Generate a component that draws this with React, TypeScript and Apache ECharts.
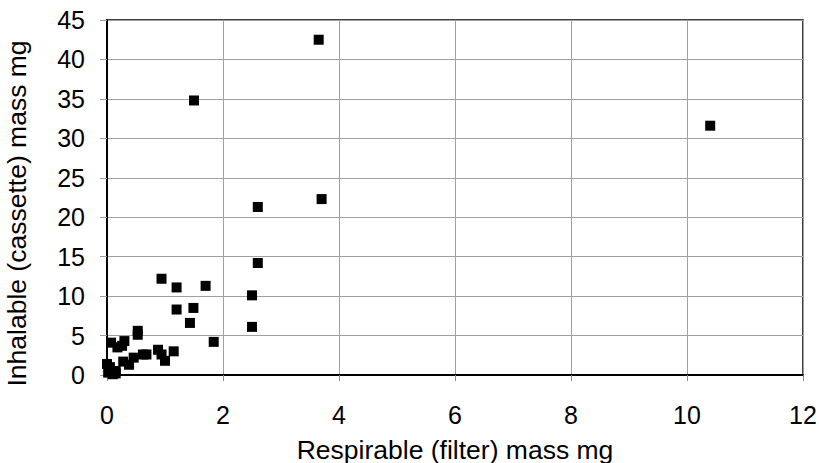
import React, { useEffect, useRef } from "react";
import * as echarts from "echarts";

const respirable: number[] = [
  3.65, 1.5, 10.4, 3.7, 2.6, 2.6, 2.5, 2.5,
  0.94, 1.2, 1.7, 1.2, 1.49, 1.43,
  0.53, 0.53, 1.84, 0.07, 0.3, 0.18, 0.26,
  1.15, 0.88, 0.94, 1.0, 0.62, 0.68, 0.46, 0.28, 0.38,
  0.0, 0.05, 0.05, 0.15, 0.1, 0.15, 0.02,
];
const inhalable: number[] = [
  42.5, 34.8, 31.6, 22.3, 21.3, 14.2, 10.1, 6.1,
  12.2, 11.1, 11.3, 8.3, 8.5, 6.6,
  5.6, 5.1, 4.2, 4.1, 4.3, 3.5, 3.7,
  3.0, 3.2, 2.6, 1.8, 2.6, 2.6, 2.2, 1.7, 1.3,
  1.4, 1.0, 0.4, 0.5, 0.1, 0.2, 0.3,
];
const xTitle = "Respirable (filter) mass mg";
const yTitle = "Inhalable (cassette) mass mg";

const FONT = "'Liberation Sans', Arial, sans-serif";

export default function App() {
  const ref = useRef<HTMLDivElement>(null);
  useEffect(() => {
    if (!ref.current) return;
    const chart = echarts.init(ref.current, undefined, { renderer: "svg" });
    const data = respirable.map((x, i) => [x, inhalable[i]]);
    chart.setOption({
      animation: false,
      backgroundColor: "#ffffff",
      grid: {
        left: 107,
        right: 16,
        top: 20,
        bottom: 88,
        containLabel: false,
        outerBoundsMode: "none",
        show: true,
        borderColor: "#000",
        borderWidth: 1.5,
      },
      xAxis: {
        type: "value",
        min: 0,
        max: 12,
        interval: 2,
        name: xTitle,
        nameLocation: "middle",
        nameGap: 61,
        nameTextStyle: { fontFamily: FONT, fontSize: 26.5, color: "#000" },
        axisLine: { show: true, lineStyle: { color: "#000", width: 2 } },
        axisTick: { show: true, length: 6, lineStyle: { color: "#888" } },
        axisLabel: { fontFamily: FONT, fontSize: 25, color: "#000", margin: 27 },
        splitLine: { show: true, lineStyle: { color: "#a0a0a0", width: 1 } },
      },
      yAxis: {
        type: "value",
        min: 0,
        max: 45,
        interval: 5,
        name: yTitle,
        nameLocation: "middle",
        nameGap: 77,
        nameTextStyle: {
          fontFamily: FONT,
          fontSize: 26.5,
          color: "#000",
          padding: [0, 32, 0, 0],
        },
        axisLine: { show: true, lineStyle: { color: "#000", width: 2 } },
        axisTick: { show: true, length: 7, lineStyle: { color: "#999" } },
        axisLabel: { fontFamily: FONT, fontSize: 25, color: "#000", margin: 22 },
        splitLine: { show: true, lineStyle: { color: "#a0a0a0", width: 1 } },
      },
      series: [
        {
          type: "scatter",
          symbol: "rect",
          symbolSize: 10,
          itemStyle: { color: "#000", opacity: 1 },
          data,
        },
      ],
    });
    return () => chart.dispose();
  }, []);
  return (
    <div
      ref={ref}
      style={{ position: "fixed", left: 0, top: 0, width: 819, height: 463 }}
    />
  );
}
